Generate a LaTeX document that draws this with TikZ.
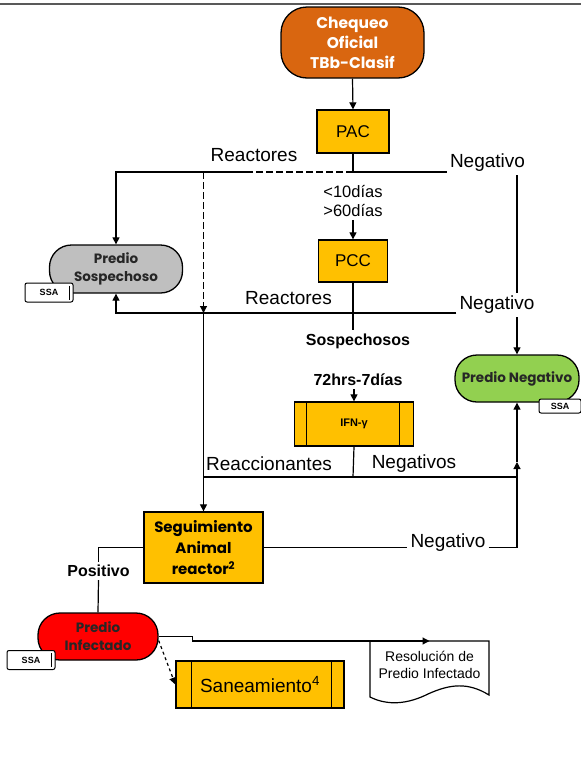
\documentclass[tikz,border=0pt]{standalone}
\usepackage{fontspec}
\setmainfont{Liberation Sans}
\newfontfamily\geo{Poppins}
\usetikzlibrary{arrows.meta}
\definecolor{orangeC}{RGB}{217,102,16}
\definecolor{amber}{RGB}{255,192,0}
\definecolor{grayC}{RGB}{191,191,191}
\definecolor{greenC}{RGB}{146,208,80}
\definecolor{redC}{RGB}{255,0,0}
\tikzset{
  box/.style={draw, line width=1.3pt, fill=amber, inner sep=0pt, align=center},
  pill/.style={draw, line width=1.3pt, rounded corners=22pt, inner sep=0pt, align=center,
    text=black!85, font=\geo\bfseries\fontsize{13.5}{18}\selectfont},
  tag/.style={draw, fill=white, rounded corners=2pt, line width=1pt, inner sep=0pt,
    minimum width=48pt, minimum height=19pt, font=\bfseries\fontsize{9}{10}\selectfont},
  lab/.style={inner sep=3pt, font=\fontsize{19}{22}\selectfont},
  blab/.style={inner sep=3pt, font=\bfseries\fontsize{16}{19}\selectfont},
  conn/.style={line width=1.2pt},
  dsh/.style={dash pattern=on 7pt off 3pt},
  arr/.style={line width=1.2pt, -{Triangle[length=7pt,width=7pt]}}
}
\begin{document}
\begin{tikzpicture}[x=1pt,y=-1pt]
\useasboundingbox (0,0) rectangle (581,782);
\draw[line width=2.5pt, black!65] (0,4) -- (581,4);

% nodes
\node[pill, fill=orangeC, text=white, minimum width=143pt, minimum height=71pt, rounded corners=26pt,
  font=\geo\bfseries\fontsize{15.5}{20}\selectfont] (chq) at (352.5,42.5) {Chequeo\\Oficial\\TBb-Clasif};
\node[box, minimum width=72pt, minimum height=43pt, font=\fontsize{17}{20}\selectfont] (pac) at (353,131.5) {PAC};
\node[box, minimum width=69pt, minimum height=42pt, font=\fontsize{17}{20}\selectfont] (pcc) at (353,261) {PCC};
\node[pill, fill=grayC, minimum width=133pt, minimum height=48pt] (sosp) at (116,269) {Predio\\Sospechoso};
\node[tag] (ssa1) at (49,292.5) {SSA};
\draw[line width=1pt] ([xshift=-4pt,yshift=-3pt]ssa1.north east) -- ([xshift=-4pt,yshift=3pt]ssa1.south east);
\node[pill, fill=greenC, minimum width=124pt, minimum height=47pt] (neg) at (517,378.5) {Predio Negativo};
\node[tag, minimum width=42pt, minimum height=14pt] (ssa2) at (560,406) {SSA};
\node[box, minimum width=119pt, minimum height=44pt, font=\bfseries\fontsize{11}{13}\selectfont] (ifn) at (354,424) {IFN-γ};
\draw[line width=1.2pt] ([xshift=13pt]ifn.north west) -- ([xshift=13pt]ifn.south west)
  ([xshift=-15pt]ifn.north east) -- ([xshift=-15pt]ifn.south east);
\node[box, minimum width=119pt, minimum height=71pt, font=\geo\bfseries\fontsize{15}{21}\selectfont] (seg) at (203.5,547.5) {Seguimiento\\Animal\\reactor\textsuperscript{2}};
\node[pill, fill=redC, minimum width=120pt, minimum height=47pt] (inf) at (98,636.5) {Predio\\Infectado};
\node[tag] (ssa3) at (31,660) {SSA};
\draw[line width=1pt] ([xshift=-4pt,yshift=-3pt]ssa3.north east) -- ([xshift=-4pt,yshift=3pt]ssa3.south east);
\node[box, minimum width=168pt, minimum height=47pt, font=\fontsize{19}{22}\selectfont] (san) at (260,684.5) {Saneamiento\textsuperscript{4}};
\draw[line width=1.2pt] ([xshift=16pt]san.north west) -- ([xshift=16pt]san.south west)
  ([xshift=-13pt]san.north east) -- ([xshift=-13pt]san.south east);
% document shape
\draw[line width=1.2pt, fill=white] (370,641) -- (489,641) -- (489,695)
  .. controls (468,682) and (450,684) .. (428,694)
  .. controls (408,704) and (388,706) .. (370,697) -- cycle;
\node[inner sep=0pt, minimum width=119pt, minimum height=48pt, anchor=north, align=center,
  font=\fontsize{14}{17}\selectfont] (res) at (429.5,641) {Resolución de\\Predio Infectado};

% labels
\node[lab] (reA) at (254,155) {Reactores};
\node[lab] (negA) at (487.5,163) {Negativo};
\node[inner sep=3pt, align=center, font=\fontsize{16.5}{19}\selectfont] (dias) at (353,201) {<10días\\>60días};
\node[lab] (reB) at (288.5,298) {Reactores};
\node[lab] (negB) at (497,305) {Negativo};
\node[blab] (sos) at (358,341) {Sospechosos};
\node[blab] (hrs) at (358,380) {72hrs-7días};
\node[lab] (reac) at (269,464) {Reaccionantes};
\node[lab] (negs) at (414,464) {Negativos};
\node[lab] (negC) at (448,543) {Negativo};
\node[blab] (pos) at (98.5,571) {Positivo};

% coordinates
\coordinate (J1) at (353,172);
\coordinate (D1) at (250,172);
\coordinate (J2) at (seg.north |- J1);
\coordinate (J3) at (353,313);
\coordinate (J5) at (seg.north |- J3);
\coordinate (J4) at (353,477);
\coordinate (C1) at (neg.south |- seg.east);
\coordinate (M) at (517,462);

% connectors
\draw[arr] (chq.south) -- (pac.north);
\draw[conn] (pac.south) -- (J1);
\draw[conn, dsh] (J1) -- (D1);
\draw[arr] (D1) -| (sosp.north);
\draw[conn] (J1) -- (J1 -| negA.west);
\draw[conn] (negA.south -| neg.north) -- (negB.north -| neg.north);
\draw[arr] (negB.south -| neg.north) -- (neg.north);
\draw[arr, dsh] (J2) -- (J5);
\draw[arr] (J5) -- (seg.north);
\draw[arr] (dias.south) -- (pcc.north);
\draw[conn] (pcc.south) -- (sos.north -| pcc.south);
\draw[arr] (J3 -| negB.west) -- (J3) -| (sosp.south);
\draw[arr] (hrs.south -| ifn.north) -- (ifn.north);
\draw[conn] (ifn.south) -- (J4);
\draw[conn] (J4 -| seg.north) -- (J4 -| C1);
\draw[conn] (seg.east) -- (seg.east -| negC.west);
\draw[conn] (negC.east |- seg.east) -- (C1);
\draw[arr] (C1) -- (M);
\draw[arr] (M) -- (neg.south);
\draw[conn] (seg.west) -| (pos.north);
\draw[conn] (pos.south) -- (inf.north);
\draw[arr] (inf.east) -- ++(34,0) |- (res.north);
\draw[arr, dashed] ([yshift=-4pt]inf.east) -- (san.west);
\end{tikzpicture}
\end{document}
